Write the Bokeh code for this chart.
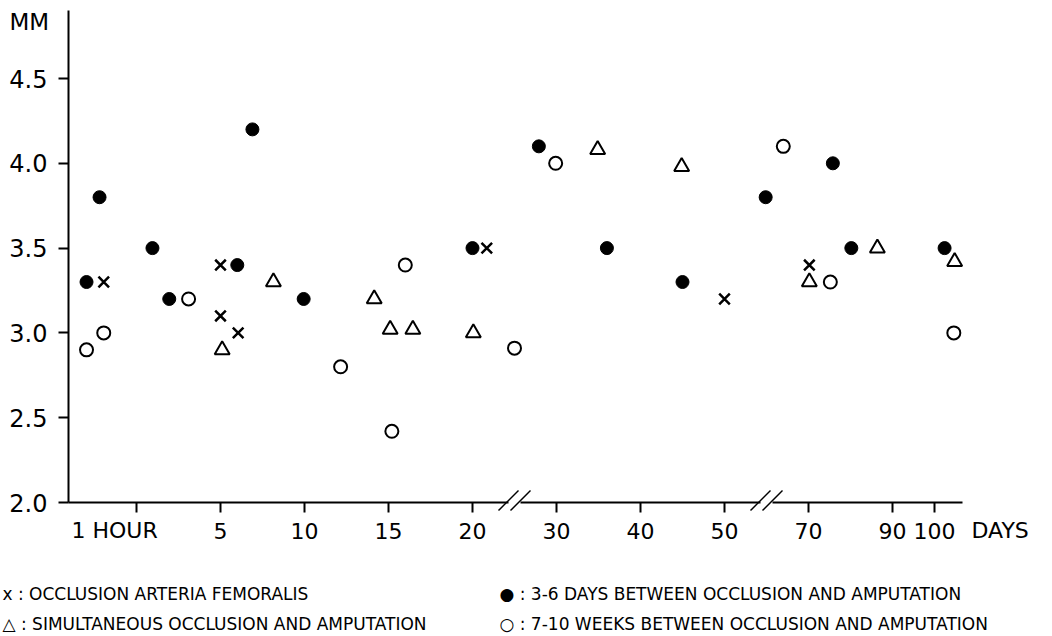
from bokeh.plotting import figure
from bokeh.models import FixedTicker, Label, Arrow, BoxAnnotation, Range1d
from bokeh.embed import file_html
from bokeh.resources import INLINE

# Positions along the broken time axis, in tick units
# (1 HOUR = 0, 5 = 10, 10 = 20, 15 = 30, 20 = 40, 30 = 50, 40 = 60, 50 = 70, 70 = 80, 90 = 90, 100 = 95)
tick_pos = [0, 10, 20, 30, 40, 50, 60, 70, 80, 90, 95]
tick_text = ["1 HOUR", "5", "10", "15", "20", "30", "40", "50", "70", "90", "100"]
y_ticks = [2.0, 2.5, 3.0, 3.5, 4.0, 4.5]
y_tick_text = ["2.0", "2.5", "3.0", "3.5", "4.0", "4.5"]
break_pos = [45, 75]

# x : occlusion arteria femoralis
cross_pos = [-3.9, 10.0, 10.0, 12.1, 41.7, 70.0, 80.1]
cross_mm = [3.3, 3.4, 3.1, 3.0, 3.5, 3.2, 3.4]
# filled dot : 3-6 days between occlusion and amputation
dot_pos = [-5.95, -4.4, 1.9, 3.9, 12.0, 13.8, 19.9, 40.0, 47.9, 56.0, 65.0, 74.9, 82.9, 85.1, 96.2]
dot_mm = [3.3, 3.8, 3.5, 3.2, 3.4, 4.2, 3.2, 3.5, 4.1, 3.5, 3.3, 3.8, 4.0, 3.5, 3.5]
# triangle : simultaneous occlusion and amputation
tri_pos = [10.2, 16.3, 28.3, 30.2, 32.9, 40.1, 54.9, 64.9, 80.1, 88.2, 97.4]
tri_mm = [2.9, 3.3, 3.2, 3.02, 3.02, 3.0, 4.08, 3.98, 3.3, 3.5, 3.42]
# open circle : 7-10 weeks between occlusion and amputation
ring_pos = [-5.95, -3.9, 6.2, 24.3, 30.4, 32.0, 45.0, 49.9, 77.0, 82.6, 97.3]
ring_mm = [2.9, 3.0, 3.2, 2.8, 2.42, 3.4, 2.91, 4.0, 4.1, 3.3, 3.0]

legend_rows = [
    ("x : OCCLUSION ARTERIA FEMORALIS", "\u25cf : 3-6 DAYS BETWEEN OCCLUSION AND AMPUTATION"),
    ("\u25b3 : SIMULTANEOUS OCCLUSION AND AMPUTATION", "\u25cb : 7-10 WEEKS BETWEEN OCCLUSION AND AMPUTATION"),
]

W, H = 1052, 636
X0, PXU = 136, 8.4     # pixel of x = 0, pixels per x unit
Y0, PXY = 502, 169.6   # pixel of y = 2.0, pixels per mm

def ux(px):
    return (px - X0) / PXU

def uy(py):
    return 2.0 + (Y0 - py) / PXY

FONT = "DejaVu Sans"

p = figure(width=W, height=H, output_backend="svg", toolbar_location=None,
           x_range=Range1d(ux(0), ux(W)), y_range=Range1d(uy(H), uy(0)),
           min_border_left=0, min_border_right=0, min_border_top=0, min_border_bottom=0)
p.outline_line_color = None
p.grid.visible = False
p.background_fill_color = "white"
p.border_fill_color = "white"

for ax in (p.xaxis[0], p.yaxis[0]):
    ax.axis_line_width = 2
    ax.axis_line_color = "black"
    ax.major_tick_line_width = 2
    ax.major_tick_line_color = "black"
    ax.major_tick_in = 0
    ax.major_tick_out = 10
    ax.minor_tick_line_color = None
    ax.major_label_text_font = FONT
    ax.major_label_text_color = "black"

p.xaxis.fixed_location = 2.0
p.xaxis.ticker = FixedTicker(ticks=tick_pos)
overrides = {t: lab for t, lab in zip(tick_pos, tick_text)}
overrides[tick_pos[0]] = ""
p.xaxis.major_label_overrides = overrides
p.xaxis.major_label_text_font_size = "22px"
p.xaxis.major_label_standoff = 10
p.xaxis.bounds = (ux(68), ux(962))

p.yaxis.fixed_location = ux(68)
p.yaxis.ticker = FixedTicker(ticks=y_ticks)
p.yaxis.major_label_overrides = {t: lab for t, lab in zip(y_ticks, y_tick_text)}
p.yaxis.major_label_text_font_size = "24px"
p.yaxis.major_label_standoff = 11
p.yaxis.bounds = (2.0, uy(10))

# data
p.scatter(cross_pos, cross_mm, marker="x", size=15, line_width=2.5, line_color="black")
p.scatter(dot_pos, dot_mm, marker="circle", size=13, fill_color="black", line_color="black")
p.scatter(tri_pos, tri_mm, marker="triangle", size=15, fill_color=None, line_color="black", line_width=2)
p.scatter(ring_pos, ring_mm, marker="circle", size=13, fill_color=None, line_color="black", line_width=2)

# axis breaks
for b in break_pos:
    p.add_layout(BoxAnnotation(left=b - 6 / PXU, right=b + 6 / PXU, bottom=2.0 - 4 / PXY, top=2.0 + 4 / PXY,
                               fill_color="white", fill_alpha=1, line_color=None, level="annotation"))
    for off in (-6, 6):
        p.add_layout(Arrow(start=None, end=None,
                           x_start=b + (off - 10) / PXU, y_start=2.0 - 8 / PXY,
                           x_end=b + (off + 10) / PXU, y_end=2.0 + 12 / PXY,
                           line_width=1.5, line_color="black"))

def lab(text, px, py, size):
    p.add_layout(Label(x=ux(px), y=uy(py), text=text, text_font=FONT,
                       text_font_size=size, text_align="left", text_baseline="middle",
                       text_color="black"))

# y-axis unit label
lab("MM", 9, 21.5, "23px")
# special x labels
lab(tick_text[0], 71, 530, "22px")
lab("DAYS", 971, 530, "22px")

# legend text
for i, (left_txt, right_txt) in enumerate(legend_rows):
    mid = [593.5, 623.5][i]
    lab(left_txt, 2, mid, "17px")
    lab(right_txt, 499, mid, "17px")

open("out.html", "w").write(file_html(p, INLINE))
